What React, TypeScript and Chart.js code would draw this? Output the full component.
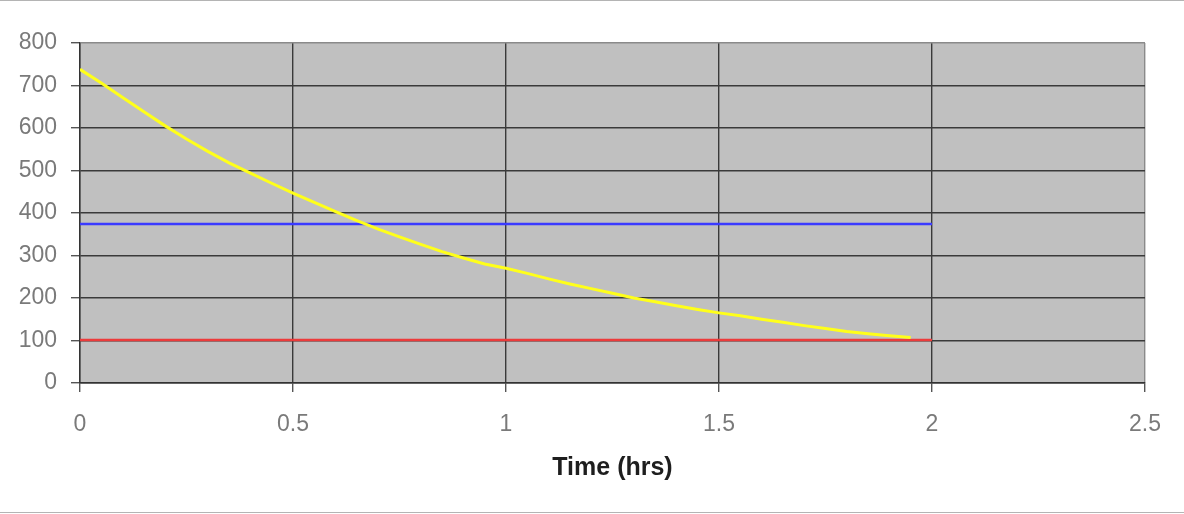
import React, { useEffect, useRef } from "react";
import { Chart, registerables } from "chart.js";

Chart.register(...registerables);

const timeHrs = [0, 0.05, 0.1, 0.15, 0.2, 0.25, 0.3, 0.35, 0.4, 0.45, 0.5, 0.55, 0.6, 0.65, 0.7, 0.75, 0.8, 0.85, 0.9, 0.95, 1.0, 1.05, 1.1, 1.15, 1.2, 1.25, 1.3, 1.35, 1.4, 1.45, 1.5, 1.55, 1.6, 1.65, 1.7, 1.75, 1.8, 1.85, 1.9, 1.95];
const concentration = [738, 706, 672, 638, 605, 574, 545, 518, 494, 470, 447, 425, 403, 382, 362, 344, 326, 309, 294, 280, 270, 258, 245, 233, 222, 211, 200, 191, 182, 173, 165, 158, 150, 143, 135, 128, 121, 116, 111, 107];
const upperTime = [0, 2];
const upperLevel = [374, 374];
const lowerTime = [0, 2];
const lowerLevel = [101, 101];
const xTickMax = 2.5;
const yTickMax = 800;

const FONT = "'Liberation Sans', Arial, sans-serif";

const plotBg = {
  id: "plotBg",
  beforeDraw(chart: any) {
    const { ctx, chartArea } = chart;
    ctx.save();
    ctx.fillStyle = "#c0c0c0";
    ctx.fillRect(chartArea.left, chartArea.top, chartArea.right - chartArea.left, chartArea.bottom - chartArea.top);
    ctx.restore();
  },
};

export default function App() {
  const ref = useRef<HTMLCanvasElement | null>(null);
  useEffect(() => {
    document.body.style.margin = "0";
    const pts = (xs: number[], ys: number[]) => xs.map((x, i) => ({ x, y: ys[i] }));
    const chart = new Chart(ref.current as HTMLCanvasElement, {
      type: "line",
      data: {
        datasets: [
          { data: pts(timeHrs, concentration), borderColor: "#ffff1a", borderWidth: 3, pointRadius: 0, tension: 0 },
          { data: pts(upperTime, upperLevel), borderColor: "#3a3aff", borderWidth: 2.5, pointRadius: 0 },
          { data: pts(lowerTime, lowerLevel), borderColor: "#ec3b3b", borderWidth: 2.5, pointRadius: 0 },
        ],
      },
      options: {
        animation: false,
        responsive: false,
        maintainAspectRatio: false,
        layout: { padding: { top: 43, right: 39, left: 0, bottom: 0 } },
        plugins: { legend: { display: false }, tooltip: { enabled: false } },
        scales: {
          x: {
            type: "linear",
            min: 0,
            max: xTickMax,
            ticks: {
              stepSize: 0.5,
              color: "#7a7a7a",
              font: { family: FONT, size: 23 },
              padding: 19,
              maxRotation: 0,
              callback: (v: any) => String(Number(v)),
            },
            grid: {
              color: (c: any) => (c.tick && c.tick.value === xTickMax ? "#8a8a8a" : "#3a3a3a"),
              lineWidth: 1.4,
              tickLength: 9,
              tickColor: "#555",
            },
            border: { color: "#333", width: 1.4 },
            title: { display: true, text: "Time (hrs)", color: "#1e1e1e", font: { family: FONT, size: 25, weight: "bold" }, padding: { top: 0, bottom: 31 } },
            afterFit: (s: any) => { s.height = 131; },
          },
          y: {
            type: "linear",
            min: 0,
            max: yTickMax,
            ticks: { stepSize: 100, color: "#7a7a7a", font: { family: FONT, size: 23 }, padding: 14 },
            grid: {
              color: (c: any) => (c.tick && c.tick.value === yTickMax ? "#8a8a8a" : "#3a3a3a"),
              lineWidth: 1.4,
              tickLength: 9,
              tickColor: "#555",
            },
            border: { color: "#333", width: 1.4 },
            afterFit: (s: any) => { s.width = 80; },
          },
        },
      },
      plugins: [plotBg],
    } as any);
    return () => chart.destroy();
  }, []);
  return (
    <div style={{ position: "relative", width: 1184, height: 514, background: "#fff" }}>
      <div style={{ position: "absolute", left: 0, top: 0, width: 1184, height: 1, background: "#b4b4b4" }} />
      <canvas ref={ref} width={1184} height={514} style={{ display: "block", width: 1184, height: 514 }} />
      <div style={{ position: "absolute", left: 0, top: 512, width: 1184, height: 1, background: "#b4b4b4" }} />
    </div>
  );
}
